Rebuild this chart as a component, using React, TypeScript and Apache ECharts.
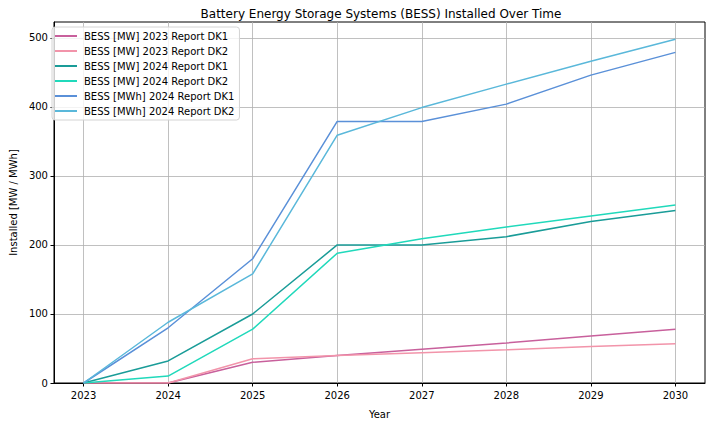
import React, { useEffect, useRef } from "react";
import * as echarts from "echarts";

const years = [2023, 2024, 2025, 2026, 2027, 2028, 2029, 2030];
const seriesNames = [
  "BESS [MW] 2023 Report DK1",
  "BESS [MW] 2023 Report DK2",
  "BESS [MW] 2024 Report DK1",
  "BESS [MW] 2024 Report DK2",
  "BESS [MWh] 2024 Report DK1",
  "BESS [MWh] 2024 Report DK2",
];
const mw2023DK1 = [0, 0, 30, 40, 49, 58, 68, 78];
const mw2023DK2 = [0, 0, 35, 40, 44, 48, 53, 57];
const mw2024DK1 = [0, 32, 100, 200, 200, 212, 234, 250];
const mw2024DK2 = [0, 10, 78, 188, 209, 226, 242, 258];
const mwh2024DK1 = [0, 80, 180, 379, 379, 404, 446, 479];
const mwh2024DK2 = [0, 88, 158, 359, 399, 433, 466, 498];
const seriesValues = [mw2023DK1, mw2023DK2, mw2024DK1, mw2024DK2, mwh2024DK1, mwh2024DK2];
const colors = ["#c8609c", "#f294aa", "#1a9c98", "#20d9bb", "#5a90d8", "#5ab8da"];
const yTicks = [0, 100, 200, 300, 400, 500];

const FONT = "DejaVu Sans";

export default function App() {
  const ref = useRef<HTMLDivElement>(null);
  useEffect(() => {
    if (!ref.current) return;
    const chart = echarts.init(ref.current, undefined, { renderer: "svg" });
    chart.setOption({
      animation: false,
      backgroundColor: "#ffffff",
      textStyle: { fontFamily: FONT },
      title: {
        text: "Battery Energy Storage Systems (BESS) Installed Over Time",
        left: 376,
        top: 3,
        textAlign: "center",
        textStyle: { fontFamily: FONT, fontSize: 12, fontWeight: "normal", color: "#000" },
      },
      legend: {
        orient: "vertical",
        left: 52,
        top: 27,
        icon: "rect",
        itemWidth: 22,
        itemHeight: 2,
        itemGap: 3,
        padding: [3, 5, 3, 3],
        backgroundColor: "rgba(255,255,255,0.8)",
        borderColor: "#d4d4d4",
        borderWidth: 1,
        borderRadius: 3,
        textStyle: { fontFamily: FONT, fontSize: 10, color: "#000", lineHeight: 12, padding: [0, 0, 0, 2] },
        data: seriesNames,
      },
      grid: {
        left: 47,
        right: 7,
        top: 22,
        bottom: 38,
        show: true,
        borderColor: "#000",
        borderWidth: 1,
        backgroundColor: "transparent",
      },
      xAxis: {
        type: "value",
        min: 2022.65,
        max: 2030.35,
        name: "Year",
        nameLocation: "middle",
        nameGap: 26,
        nameTextStyle: { fontFamily: FONT, fontSize: 10, color: "#000" },
        axisLine: { show: true, onZero: false, lineStyle: { color: "#000", width: 1 } },
        axisTick: { show: true, length: 3.5, lineStyle: { color: "#000" }, customValues: years },
        axisLabel: {
          fontFamily: FONT,
          fontSize: 10,
          color: "#000",
          margin: 7,
          customValues: years,
          formatter: (v: number) => String(Math.round(v)),
        },
        splitLine: { show: true, lineStyle: { color: "#b0b0b0", width: 0.8 } },
      },
      yAxis: {
        type: "value",
        min: 0,
        max: 523,
        name: "Installed [MW / MWh]",
        nameLocation: "middle",
        nameGap: 33,
        nameTextStyle: { fontFamily: FONT, fontSize: 10, color: "#000" },
        axisLine: { show: true, lineStyle: { color: "#000", width: 1 } },
        axisTick: { show: true, length: 3.5, lineStyle: { color: "#000" }, customValues: yTicks },
        axisLabel: { fontFamily: FONT, fontSize: 10, color: "#000", margin: 6, customValues: yTicks },
        splitLine: { show: true, lineStyle: { color: "#b0b0b0", width: 0.8 } },
      },
      series: seriesNames.map((name, i) => ({
        name,
        type: "line",
        data: years.map((y, j) => [y, seriesValues[i][j]]),
        showSymbol: false,
        symbol: "none",
        color: colors[i],
        lineStyle: { color: colors[i], width: 1.5 },
        z: 3,
      })),
    });
    return () => chart.dispose();
  }, []);
  return (
    <div
      ref={ref}
      style={{ position: "fixed", left: 0, top: 0, width: 712, height: 424 }}
    />
  );
}
